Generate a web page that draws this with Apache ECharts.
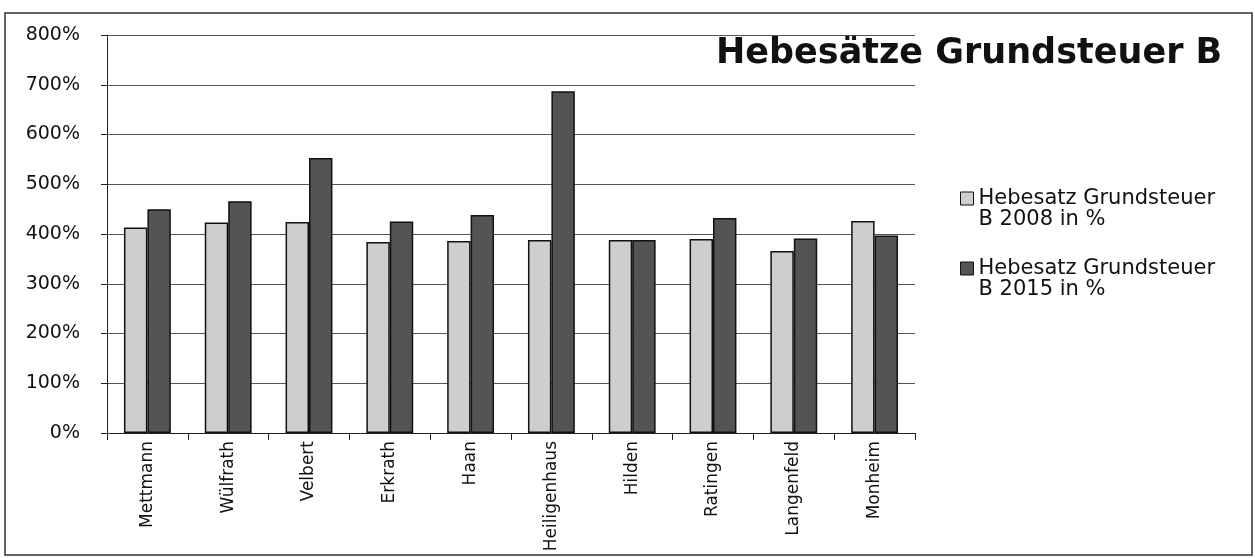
<!DOCTYPE html>
<html>
<head>
<meta charset="utf-8">
<script src="https://cdn.jsdelivr.net/npm/echarts@6/dist/echarts.min.js"></script>
<style>
  html, body { margin: 0; padding: 0; background: #fff; }
  #chart { width: 1255px; height: 558px; }
</style>
</head>
<body>
<div id="chart"></div>
<script>
// Städte (Kategorien)
const cities = ["Mettmann", "Wülfrath", "Velbert", "Erkrath", "Haan", "Heiligenhaus", "Hilden", "Ratingen", "Langenfeld", "Monheim"];
// Hebesätze in %
const rate2008 = [413, 423, 424, 384, 386, 388, 388, 390, 366, 426];
const rate2015 = [450, 466, 553, 425, 438, 687, 388, 432, 391, 397];
const seriesNames = ["Hebesatz Grundsteuer B 2008 in %", "Hebesatz Grundsteuer B 2015 in %"];

const chart = echarts.init(document.getElementById("chart"));

chart.setOption({
  animation: false,
  backgroundColor: "#fff",
  title: {
    text: "Hebesätze Grundsteuer B",
    left: 716,
    top: 36,
    padding: 0,
    textStyle: {
      fontFamily: "DejaVu Sans",
      fontWeight: "bold",
      fontSize: 35,
      color: "#111",
    },
  },
  legend: {
    orient: "vertical",
    left: 955,
    top: 162,
    itemWidth: 13,
    itemHeight: 13,
    itemGap: 7,
    icon: "rect",
    selectedMode: false,
    data: seriesNames,
    // icon sits on the first line: empty line above keeps it centred there
    formatter: (name) => "\n" + name.replace("Grundsteuer ", "Grundsteuer\n"),
    itemStyle: { borderColor: "#111", borderWidth: 1 },
    textStyle: {
      fontFamily: "DejaVu Sans",
      fontSize: 21,
      lineHeight: 21,
      color: "#111",
    },
  },
  grid: {
    left: 107,
    right: 340,
    top: 35,
    bottom: 125,
  },
  xAxis: {
    type: "category",
    data: cities,
    axisLine: { lineStyle: { color: "#222", width: 1 } },
    axisTick: { show: true, length: 7, lineStyle: { color: "#222" } },
    axisLabel: {
      rotate: 90,
      margin: 8,
      fontFamily: "DejaVu Sans",
      fontSize: 17,
      color: "#111",
    },
  },
  yAxis: {
    type: "value",
    min: 0,
    max: 800,
    interval: 100,
    axisLine: { show: true, lineStyle: { color: "#222", width: 1 } },
    axisTick: { show: true, length: 6, lineStyle: { color: "#222" } },
    splitLine: { lineStyle: { color: "#555", width: 1 } },
    axisLabel: {
      formatter: "{value}%",
      margin: 27,
      fontFamily: "DejaVu Sans",
      fontSize: 19,
      color: "#111",
    },
  },
  series: [
    {
      name: seriesNames[0],
      type: "bar",
      data: rate2008,
      barGap: "0%",
      barCategoryGap: "42%",
      itemStyle: { color: "#cecece", borderColor: "#111", borderWidth: 1.5 },
    },
    {
      name: seriesNames[1],
      type: "bar",
      data: rate2015,
      itemStyle: { color: "#545454", borderColor: "#111", borderWidth: 1.5 },
    },
  ],
  graphic: [
    {
      type: "rect",
      shape: { x: 5, y: 13, width: 1247, height: 542 },
      style: { fill: null, stroke: "#333", lineWidth: 1.5 },
      silent: true,
    },
  ],
});
</script>
</body>
</html>
